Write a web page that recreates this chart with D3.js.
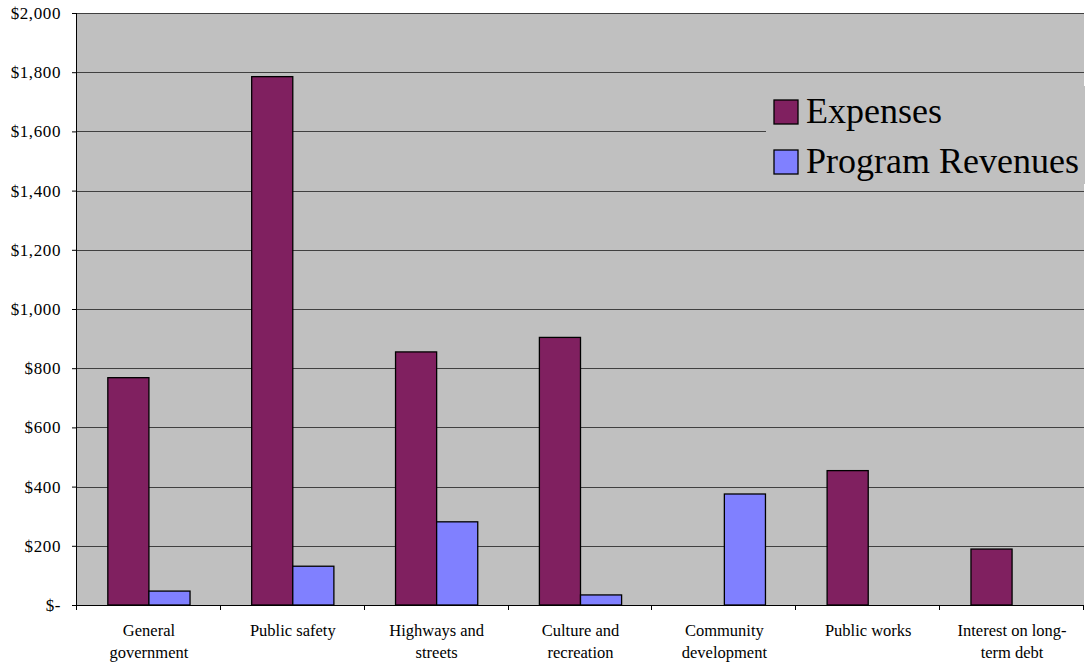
<!DOCTYPE html>
<html>
<head>
<meta charset="utf-8">
<script src="https://cdn.jsdelivr.net/npm/d3@7/dist/d3.min.js"></script>
<style>
  body { margin: 0; background: #fff; }
  svg text { font-family: "Liberation Serif", "Times New Roman", serif; fill: #000; }
</style>
</head>
<body>
<svg id="chart" width="1085" height="665"></svg>
<script>
// data
var categories = [
    ["General", "government"],
    ["Public safety"],
    ["Highways and", "streets"],
    ["Culture and", "recreation"],
    ["Community", "development"],
    ["Public works"],
    ["Interest on long-", "term debt"]
];
var seriesNames = ["Expenses", "Program Revenues"];
var expenses = [768, 1785, 855, 904, 0, 454, 189];
var revenues = [47, 131, 281, 34, 375, 0, 0];
var yTicks = [0, 200, 400, 600, 800, 1000, 1200, 1400, 1600, 1800, 2000];
var colors = ["#802060", "#8080FF"];

var svg = d3.select("#chart"),
    margin = { top: 13, right: 1, bottom: 60, left: 77 },
    width = +svg.attr("width") - margin.left - margin.right,
    height = +svg.attr("height") - margin.top - margin.bottom;

var keys = categories.map(c => c.join(" "));
var x = d3.scaleBand().domain(keys).range([0, width]).padding(0),
    x_inner = d3.scaleBand().domain(seriesNames).range([0, x.bandwidth()]).paddingInner(0).paddingOuter(0.75),
    y = d3.scaleLinear().domain([0, 2000]).range([height, 0]);

var g = svg.append("g")
    .attr("transform", "translate(" + margin.left + "," + margin.top + ")");

// plot area
g.append("rect")
    .attr("width", width)
    .attr("height", height)
    .attr("fill", "#C0C0C0");

// gridlines
g.append("g")
    .selectAll("line")
    .data(yTicks.slice(1))
    .enter().append("line")
    .attr("x1", 0)
    .attr("x2", width)
    .attr("y1", d => Math.round(y(d)) + 0.5)
    .attr("y2", d => Math.round(y(d)) + 0.5)
    .attr("stroke", "#404040")
    .attr("stroke-width", 1);

// bars
var data = keys.map((k, i) => ({ key: k, values: [expenses[i], revenues[i]] }));
var groups = g.selectAll(".grp")
    .data(data)
    .enter().append("g")
    .attr("class", "grp")
    .attr("transform", d => "translate(" + x(d.key) + ",0)");

groups.selectAll("rect")
    .data(d => d.values.map((v, j) => ({ name: seriesNames[j], value: v, j: j })))
    .enter().append("rect")
    .filter(d => d.value > 0)
    .attr("x", d => x_inner(d.name))
    .attr("y", d => y(d.value))
    .attr("width", x_inner.bandwidth())
    .attr("height", d => height - y(d.value))
    .attr("fill", d => colors[d.j])
    .attr("stroke", "#000")
    .attr("stroke-width", 1.3);

// y axis
var yAxis = d3.axisLeft(y)
    .tickValues(yTicks)
    .tickSize(5)
    .tickPadding(11)
    .tickFormat(d => d === 0 ? "$-" : "$" + d3.format(",")(d));
var yg = g.append("g").call(yAxis);
yg.select(".domain").attr("stroke", "#000").attr("d", "M-0.5,0V" + height);
yg.selectAll(".tick line").attr("stroke", "#000");
yg.selectAll("text")
    .attr("font-size", "17px")
    .attr("letter-spacing", "0.6px")
    .style("font-family", "'Liberation Serif', 'Times New Roman', serif");

// x axis
var xg = g.append("g").attr("transform", "translate(0," + height + ")");
xg.append("line")
    .attr("x1", -1).attr("x2", width)
    .attr("y1", 0.5).attr("y2", 0.5)
    .attr("stroke", "#000");
xg.selectAll(".xtick")
    .data(keys.map(k => x(k)).concat([width]))
    .enter().append("line")
    .attr("x1", d => Math.round(d) - 0.5)
    .attr("x2", d => Math.round(d) - 0.5)
    .attr("y1", 0)
    .attr("y2", 5)
    .attr("stroke", "#000");

var labels = xg.selectAll(".xlabel")
    .data(categories)
    .enter().append("text")
    .attr("class", "xlabel")
    .attr("text-anchor", "middle")
    .attr("font-size", "16.5px")
    .attr("transform", (d, i) => "translate(" + (x(keys[i]) + x.bandwidth() / 2) + ",31)");
labels.selectAll("tspan")
    .data(d => d)
    .enter().append("tspan")
    .attr("x", 0)
    .attr("y", (d, i) => i * 22)
    .text(d => d);

// legend
var legend = svg.append("g").attr("transform", "translate(766,86)");
legend.append("rect")
    .attr("width", 320)
    .attr("height", 98)
    .attr("fill", "#C0C0C0");
var items = legend.selectAll(".item")
    .data(seriesNames)
    .enter().append("g")
    .attr("transform", (d, i) => "translate(8," + (14 + i * 50) + ")");
items.append("rect")
    .attr("width", 24)
    .attr("height", 24)
    .attr("fill", (d, i) => colors[i])
    .attr("stroke", "#000")
    .attr("stroke-width", 1.3);
items.append("text")
    .attr("x", 32)
    .attr("y", 23)
    .attr("font-size", "36px")
    .text(d => d);
</script>
</body>
</html>
